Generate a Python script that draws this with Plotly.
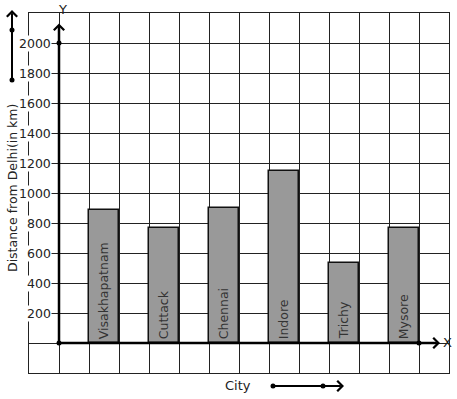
import plotly.graph_objects as go

cities = ["Visakhapatnam", "Cuttack", "Chennai", "Indore", "Trichy", "Mysore"]
distances = [890, 770, 900, 1150, 535, 770]
y_ticks = [200, 400, 600, 800, 1000, 1200, 1400, 1600, 1800, 2000]

W, H = 457, 399
L, R, T, B = 29, 8, 13, 26
PW, PH = W - L - R, H - T - B

def px(xp):
    return (xp - L) / PW

def py(yp):
    return (H - B - yp) / PH

FONT = "DejaVu Sans"
positions = [2 * i + 1.5 for i in range(len(cities))]

fig = go.Figure()
fig.add_trace(go.Bar(
    x=positions, y=distances, width=1,
    marker=dict(color="#999999", line=dict(color="#111111", width=1.5)),
    text=cities, textposition="inside", insidetextanchor="start",
    textangle=-90, constraintext="none",
    textfont=dict(family=FONT, size=12.5, color="#333333"),
    hoverinfo="x+y",
))

annotations = []
for v in y_ticks:
    annotations.append(dict(x=0, y=v, xref="x", yref="y", text=str(v),
                            showarrow=False, xanchor="right", yanchor="middle",
                            xshift=-7, bgcolor="white", borderpad=0,
                            font=dict(family=FONT, size=12.5, color="#222")))

# axis arrows
annotations.append(dict(x=12.7, y=0, ax=0, ay=0, xref="x", yref="y", axref="x", ayref="y",
                        text="", showarrow=True, arrowhead=4, arrowsize=0.8,
                        arrowwidth=2.5, arrowcolor="black"))
annotations.append(dict(x=0, y=2130, ax=0, ay=0, xref="x", yref="y", axref="x", ayref="y",
                        text="", showarrow=True, arrowhead=4, arrowsize=0.8,
                        arrowwidth=2.5, arrowcolor="black"))
# decorative arrows (tail given as pixel offset from tip)
annotations.append(dict(x=px(12), y=py(10), ax=0, ay=70, xref="paper", yref="paper",
                        axref="pixel", ayref="pixel", text="", showarrow=True, arrowhead=4,
                        arrowsize=1, arrowwidth=2, arrowcolor="black"))
annotations.append(dict(x=px(344), y=py(386), ax=-71, ay=0, xref="paper", yref="paper",
                        axref="pixel", ayref="pixel", text="", showarrow=True, arrowhead=4,
                        arrowsize=1, arrowwidth=2, arrowcolor="black"))
# labels
common = dict(xref="paper", yref="paper", showarrow=False, xanchor="center", yanchor="middle")
annotations.append(dict(x=px(447), y=py(342), text="X",
                        font=dict(family=FONT, size=13, color="#222"), **common))
annotations.append(dict(x=px(62), y=py(9), text="Y",
                        font=dict(family=FONT, size=13, color="#222"), **common))
annotations.append(dict(x=px(238), y=py(385), text="City",
                        font=dict(family=FONT, size=13, color="#222"), **common))
annotations.append(dict(x=px(12), y=py(188), text="Distance from Delhi(in km)", textangle=-90,
                        font=dict(family=FONT, size=12.5, color="#222"), **common))

shapes = []
def dot(x, y, xref, yref, r=2.5):
    shapes.append(dict(type="circle", xref=xref, yref=yref, xsizemode="pixel", ysizemode="pixel",
                       xanchor=x, yanchor=y, x0=-r, x1=r, y0=-r, y1=r,
                       fillcolor="black", line=dict(color="black", width=0)))

dot(0, 0, "x", "y")
dot(0, 2000, "x", "y")
dot(12, 0, "x", "y")
dot(px(12), py(30), "paper", "paper")
dot(px(12), py(80), "paper", "paper")
dot(px(273), py(386), "paper", "paper")
dot(px(323), py(386), "paper", "paper")

fig.update_layout(
    width=W, height=H,
    margin=dict(l=L, r=R, t=T, b=B, pad=0),
    paper_bgcolor="white", plot_bgcolor="white",
    showlegend=False, bargap=0,
    font=dict(family=FONT),
    xaxis=dict(range=[-1, 13], tick0=0, dtick=1, showticklabels=False, ticks="",
               showgrid=True, gridcolor="#222222", gridwidth=1, zeroline=False,
               showline=True, mirror=True, linecolor="#222222", linewidth=1, fixedrange=True),
    yaxis=dict(range=[-200, 2200], tick0=0, dtick=200, showticklabels=False, ticks="",
               showgrid=True, gridcolor="#222222", gridwidth=1, zeroline=False,
               showline=True, mirror=True, linecolor="#222222", linewidth=1, fixedrange=True),
    annotations=annotations,
    shapes=shapes,
)

fig.write_html("out.html", config={"displayModeBar": False},
               post_script="document.body.style.margin='0';document.body.style.padding='0';document.body.style.overflow='hidden';")
